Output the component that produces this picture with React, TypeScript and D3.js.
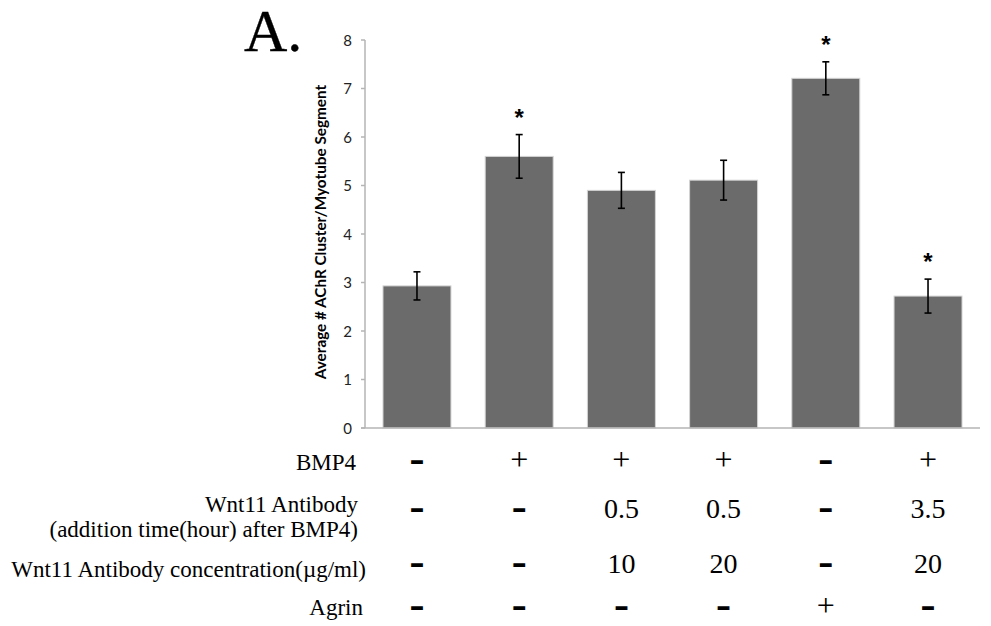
import React from "react";
import * as d3 from "d3";

const categories = ["c1", "c2", "c3", "c4", "c5", "c6"];
const means = [2.93, 5.6, 4.9, 5.11, 7.21, 2.72];
const errors = [0.29, 0.45, 0.37, 0.41, 0.34, 0.35];
const significant = [false, true, false, false, true, true];
const yTicks = [0, 1, 2, 3, 4, 5, 6, 7, 8];
const yTitle = "Average # AChR Cluster/Myotube Segment";

const rowLabels = [
  ["BMP4"],
  ["Wnt11 Antibody", "(addition time(hour) after BMP4)"],
  ["Wnt11 Antibody concentration(\u00b5g/ml)"],
  ["Agrin"],
];
const bmp4Row = ["-", "+", "+", "+", "-", "+"];
const timeRow = ["-", "-", "0.5", "0.5", "-", "3.5"];
const concRow = ["-", "-", "10", "20", "-", "20"];
const agrinRow = ["-", "-", "-", "-", "+", "-"];
const tableRows = [bmp4Row, timeRow, concRow, agrinRow];

const W = 991;
const H = 626;
const axisX = 365;
const axisRight = 980;
const y0 = 428;
const yTop = 40;

export default function App() {
  const x = d3
    .scaleBand<string>()
    .domain(categories)
    .range([axisX, axisRight])
    .paddingInner(0.335)
    .paddingOuter(0.176);
  const y = d3.scaleLinear().domain([0, 8]).range([y0, yTop]);

  const rowCenters = [461, 509, 564, 607];
  const labelBaselines = [[470], [512, 537], [577], [615]];
  const labelRight = [[356], [358], [366], [363]];

  const renderCell = (v: string, cx: number, cy: number, key: string) => {
    if (v === "-") {
      return (
        <text
          key={key}
          x={cx}
          y={cy + 9}
          textAnchor="middle"
          fontFamily="DejaVu Sans"
          fontWeight="bold"
          fontSize={30}
          fill="#000"
        >
          {"\u2013"}
        </text>
      );
    }
    if (v === "+") {
      return (
        <text
          key={key}
          x={cx}
          y={cy + 8.5}
          textAnchor="middle"
          fontFamily="Liberation Serif"
          fontSize={32}
          fill="#000"
        >
          +
        </text>
      );
    }
    return (
      <text
        key={key}
        x={cx}
        y={cy + 9}
        textAnchor="middle"
        fontFamily="Liberation Serif"
        fontSize={28}
        fill="#000"
      >
        {v}
      </text>
    );
  };

  return (
    <svg
      width={W}
      height={H}
      style={{ position: "absolute", left: 0, top: 0, background: "#fff" }}
    >
      <rect x={0} y={0} width={W} height={H} fill="#fff" />
      <text
        x={244}
        y={51}
        fontFamily="Liberation Serif"
        fontSize={60}
        fill="#000"
        stroke="#000"
        strokeWidth={0.35}
      >
        A.
      </text>

      {/* y axis */}
      <line x1={axisX} x2={axisX} y1={yTop} y2={y0} stroke="#b5b5b5" strokeWidth={1.5} />
      {yTicks.map((t) => (
        <g key={t}>
          <line x1={axisX - 4} x2={axisX} y1={y(t)} y2={y(t)} stroke="#b5b5b5" strokeWidth={1.5} />
          <text
            x={352}
            y={y(t) + 5.5}
            textAnchor="end"
            fontFamily="Lato"
            fontSize={15}
            fill="#222"
          >
            {t}
          </text>
        </g>
      ))}
      <text
        transform={`translate(326,232) rotate(-90)`}
        textAnchor="middle"
        fontFamily="Lato"
        fontWeight="bold"
        fontSize={15.3}
        fill="#000"
      >
        {yTitle}
      </text>

      {/* bars */}
      {categories.map((c, i) => {
        const bx = x(c)!;
        const bw = x.bandwidth();
        const cx = bx + bw / 2;
        const top = y(means[i] + errors[i]);
        const bot = y(means[i] - errors[i]);
        return (
          <g key={c}>
            <rect
              x={bx}
              y={y(means[i])}
              width={bw}
              height={y0 - y(means[i])}
              fill="#6b6b6b"
              stroke="#d4d4d4"
              strokeWidth={1}
            />
            <line x1={cx} x2={cx} y1={top} y2={bot} stroke="#000" strokeWidth={1.6} />
            <line x1={cx - 3.5} x2={cx + 3.5} y1={top} y2={top} stroke="#000" strokeWidth={1.6} />
            <line x1={cx - 3.5} x2={cx + 3.5} y1={bot} y2={bot} stroke="#000" strokeWidth={1.6} />
            {significant[i] && (
              <text
                x={cx}
                y={top - 22 + 13}
                textAnchor="middle"
                fontFamily="Liberation Sans"
                fontWeight="bold"
                fontSize={24}
                fill="#000"
              >
                *
              </text>
            )}
          </g>
        );
      })}

      {/* x axis */}
      <line x1={axisX - 4} x2={axisRight} y1={y0} y2={y0} stroke="#b5b5b5" strokeWidth={1.5} />

      {/* table */}
      {rowLabels.map((lines, r) =>
        lines.map((ln, k) => (
          <text
            key={`l${r}-${k}`}
            x={labelRight[r][0]}
            y={labelBaselines[r][k]}
            textAnchor="end"
            fontFamily="Liberation Serif"
            fontSize={23}
            fill="#000"
          >
            {ln}
          </text>
        ))
      )}
      {tableRows.map((row, r) =>
        row.map((v, i) => {
          const cx = x(categories[i])! + x.bandwidth() / 2;
          return renderCell(v, cx, rowCenters[r], `c${r}-${i}`);
        })
      )}
    </svg>
  );
}
